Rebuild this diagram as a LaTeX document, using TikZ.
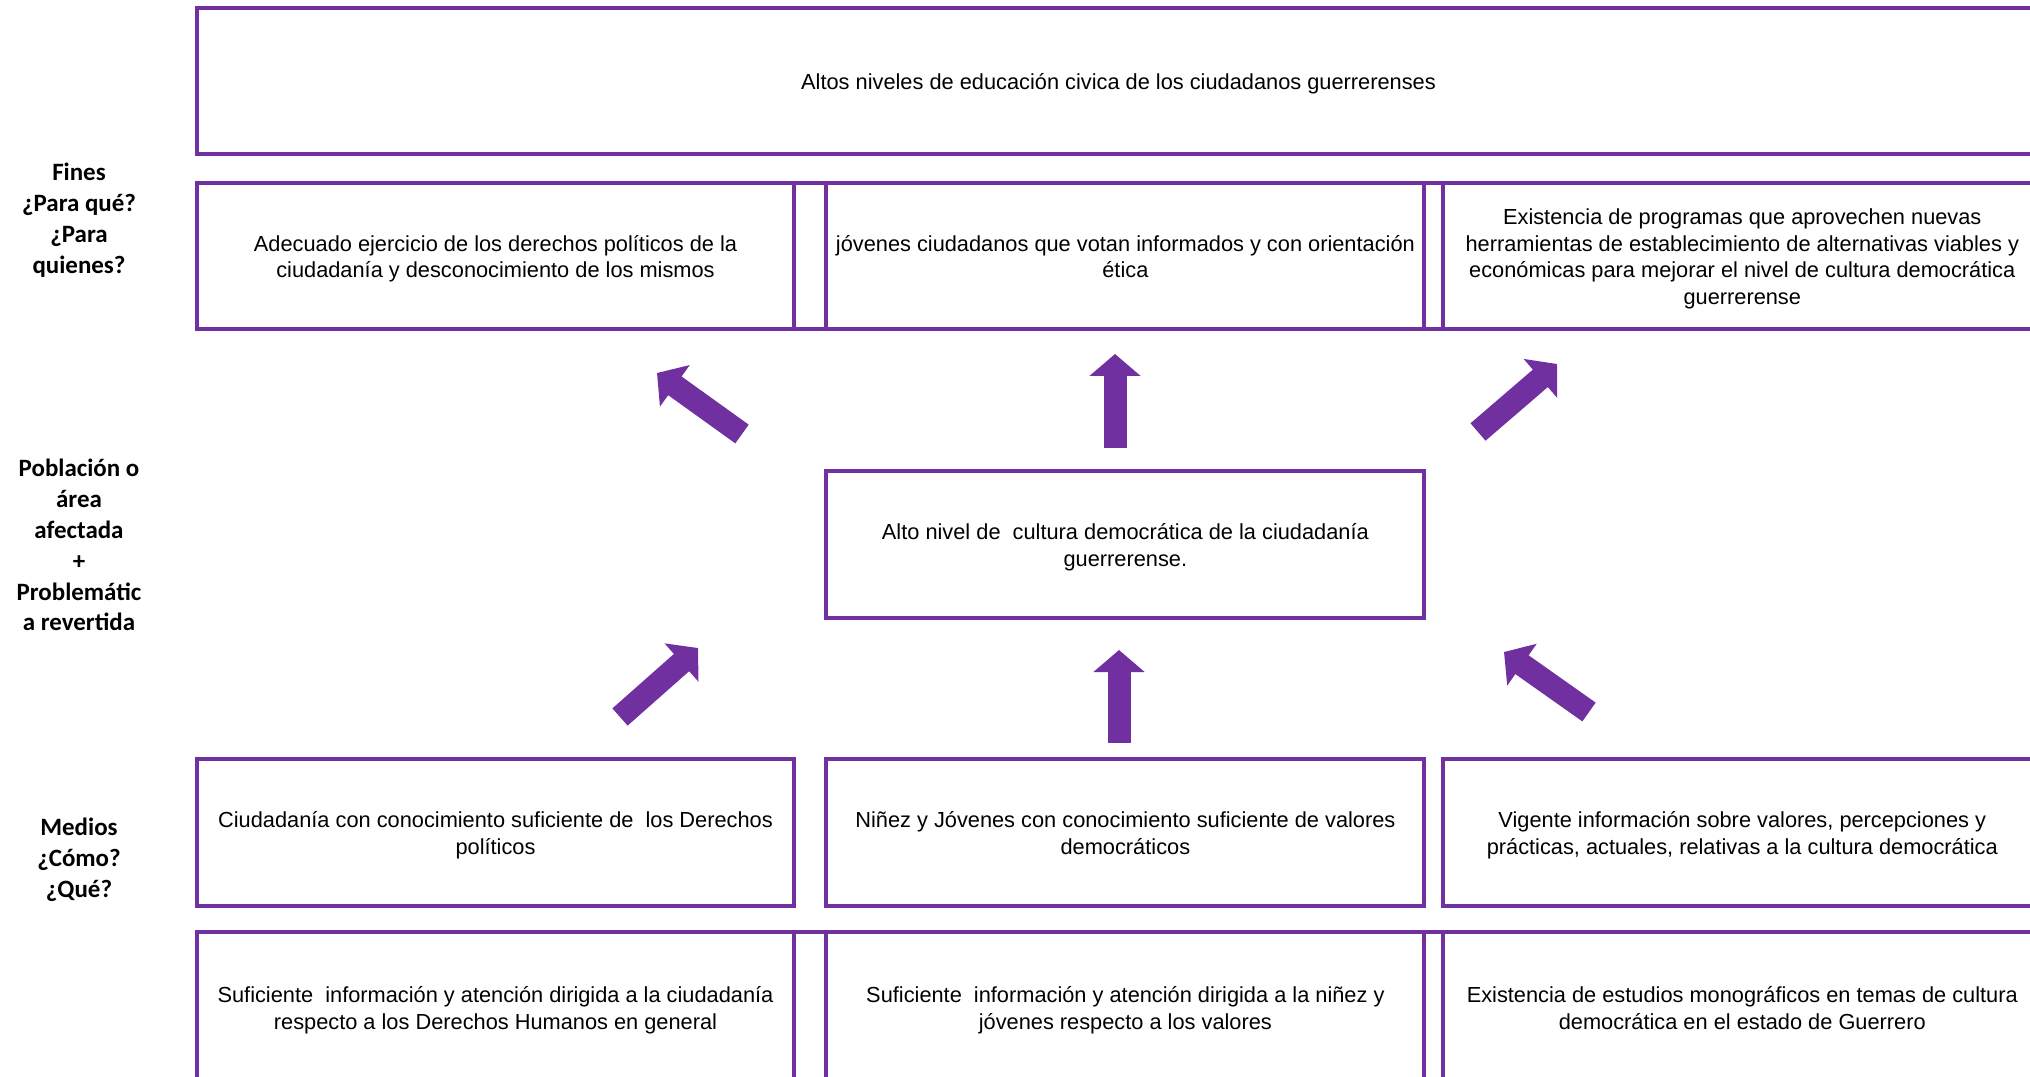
\documentclass[tikz,border=0pt]{standalone}
\usepackage{fontspec}
\setmainfont{Liberation Sans}
\newfontfamily\lblfont{Carlito}
\usepackage{xcolor}
\usepackage{tikz}
\usetikzlibrary{arrows.meta,positioning}

\definecolor{morado}{HTML}{7030A0}

\begin{document}
\begin{tikzpicture}[
  x=0.02cm, y=-0.02cm,
  font=\fontsize{12.4pt}{15.3pt}\selectfont,
  cell/.style={draw=morado, line width=0.08cm, outer sep=0pt, align=flush center, text width=11.8cm, inner xsep=1pt,
    minimum width=11.96cm, minimum height=2.92cm,
    execute at begin node={\rule{0pt}{12.3pt}}, execute at end node={\rule[-2.6pt]{0pt}{2.6pt}}},
  gapcell/.style={draw=morado, line width=0.08cm, outer sep=0pt, minimum height=2.92cm},
  rowlbl/.style={align=center, font=\lblfont\bfseries\fontsize{14.2pt}{17.6pt}\selectfont},
  blockarr/.style={morado, line width=0.46cm, -{Triangle[width=1.0cm, length=0.44cm]}}
]
  \useasboundingbox (0,0) rectangle (2030,1077);
  \clip (0,0) rectangle (2030,1077);

  % fines
  \node[cell, text width=36cm, minimum width=36.86cm] (meta) at (1118.5,81) {Altos niveles de educación civica de los ciudadanos guerrerenses};
  \node[cell] (fin1) at (495.5,256) {Adecuado ejercicio de los derechos políticos de la\\ciudadanía y desconocimiento de los mismos};
  \node[gapcell, minimum width=0.64cm, right=0pt of fin1] (gapA) {};
  \node[cell, right=0pt of gapA] (fin2) {jóvenes ciudadanos que votan informados y con orientación\\ética};
  \node[gapcell, minimum width=0.38cm, right=0pt of fin2] (gapB) {};
  \node[cell, right=0pt of gapB] (fin3) {Existencia de programas que aprovechen nuevas\\herramientas de establecimiento de alternativas viables y\\económicas para mejorar el nivel de cultura democrática\\guerrerense};

  % poblacion
  \node[cell, minimum height=2.94cm, below=2.84cm of fin2] (pob) {Alto nivel de~ cultura democrática de la ciudadanía\\guerrerense.};

  % medios
  \node[cell, minimum height=2.94cm, below=2.82cm of pob] (med2) {Niñez y Jóvenes con conocimiento suficiente de valores\\democráticos};
  \node[cell, minimum height=2.94cm, left=0.64cm of med2] (med1) {Ciudadanía con conocimiento suficiente de~ los Derechos\\políticos};
  \node[cell, minimum height=2.94cm, right=0.38cm of med2] (med3) {Vigente información sobre valores, percepciones y\\prácticas, actuales, relativas a la cultura democrática};

  \node[cell, minimum height=3.04cm, below=0.52cm of med2] (act2) {Suficiente~ información y atención dirigida a la niñez y\\jóvenes respecto a los valores};
  \node[gapcell, minimum height=3.04cm, minimum width=0.64cm, left=0pt of act2] (gapC) {};
  \node[cell, minimum height=3.04cm, left=0pt of gapC] (act1) {Suficiente~ información y atención dirigida a la ciudadanía\\respecto a los Derechos Humanos en general};
  \node[gapcell, minimum height=3.04cm, minimum width=0.38cm, right=0pt of act2] (gapD) {};
  \node[cell, minimum height=3.04cm, right=0pt of gapD] (act3) {Existencia de estudios monográficos en temas de cultura\\democrática en el estado de Guerrero};

  % row labels
  \node[rowlbl] (lblFines) at (79,220) {Fines\\¿Para qué?\\¿Para\\quienes?};
  \node[rowlbl] (lblPob) at (79,545) {Población o\\área\\afectada\\+\\Problemátic\\a revertida};
  \node[rowlbl] (lblMedios) at (79,859.6) {Medios\\¿Cómo?\\¿Qué?};

  % arrows
  \coordinate (upA) at (1115,448);
  \coordinate (upB) at (1115,354);
  \coordinate (ulA) at (742,434);
  \coordinate (ulB) at (657,373);
  \coordinate (urA) at (1478,432);
  \coordinate (urB) at (1557,364);
  \coordinate (dnA) at (1119,743);
  \coordinate (dnB) at (1119,650);
  \coordinate (dlA) at (620,717);
  \coordinate (dlB) at (698,648);
  \coordinate (drA) at (1589,712);
  \coordinate (drB) at (1504,652);

  \draw[blockarr] (upA) -- (upB);
  \draw[blockarr] (ulA) -- (ulB);
  \draw[blockarr] (urA) -- (urB);
  \draw[blockarr] (dnA) -- (dnB);
  \draw[blockarr] (dlA) -- (dlB);
  \draw[blockarr] (drA) -- (drB);
\end{tikzpicture}
\end{document}
